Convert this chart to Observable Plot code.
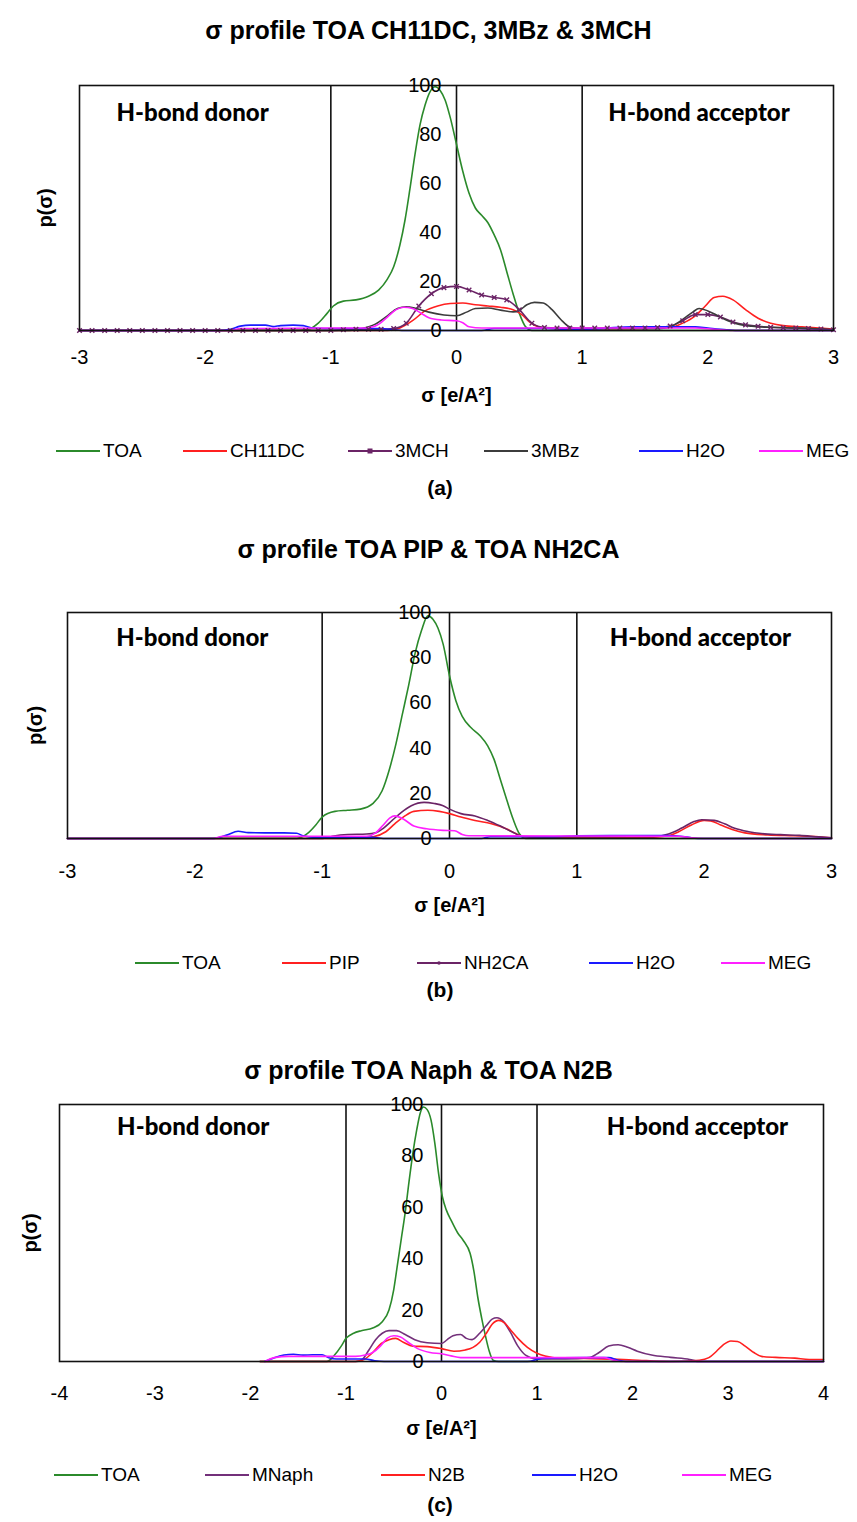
<!DOCTYPE html>
<html>
<head>
<meta charset="utf-8">
<script src="https://cdn.jsdelivr.net/npm/d3@7"></script>
<script src="https://cdn.jsdelivr.net/npm/@observablehq/plot@0.6"></script>
<style>
  body { margin: 0; background: #fff; }
  #page { position: relative; width: 857px; height: 1522px; font-family: "Liberation Sans", Arial, sans-serif; color: #000; }
  .title { position: absolute; left: 0; width: 857px; text-align: center; font-weight: bold; font-size: 25px; transform: translateY(-50%); white-space: nowrap; }
  .caption { position: absolute; left: 420px; width: 40px; text-align: center; font-weight: bold; font-size: 21px; transform: translateY(-50%); }
  .chart { position: absolute; left: 0; }
  .item { position: absolute; display: flex; align-items: center; font-size: 19px; transform: translateY(-50%); white-space: nowrap; }
  .item svg { margin-right: 3px; }
</style>
</head>
<body>
<div id="page"></div>
<script>
// σ-profiles, p(σ) against σ [e/Å²], as [σ, p] pairs

// (a) TOA, CH11DC, 3MCH, 3MBz, H2O, MEG
const toaA = [[-3,0],[-1.3,0],[-1.18,0.5],[-1.1,3],[-1.03,7],[-0.98,10],[-0.9,12],[-0.8,12.5],[-0.7,14],[-0.62,16.5],[-0.55,21],[-0.5,26],[-0.45,35],[-0.41,45],[-0.37,58],[-0.33,72],[-0.29,84],[-0.25,92],[-0.21,97.5],[-0.17,99.5],[-0.13,98],[-0.09,94],[-0.05,87],[0,76],[0.05,65],[0.1,56],[0.15,50],[0.2,47],[0.25,44],[0.3,39],[0.35,33],[0.4,24],[0.45,15],[0.5,7],[0.55,1.5],[0.6,0],[3,0]];
const ch11dcA = [[-3,0],[-0.55,0],[-0.45,1],[-0.35,4],[-0.25,8],[-0.15,10],[-0.05,11],[0.05,11.2],[0.15,10.5],[0.25,10],[0.35,9.5],[0.45,8.5],[0.52,6.5],[0.58,3.5],[0.65,1.5],[0.75,0.8],[1.0,0.7],[1.5,0.8],[1.7,1.2],[1.8,3],[1.9,6],[1.98,10],[2.05,13.5],[2.12,14],[2.2,12.5],[2.3,8.5],[2.4,5],[2.5,3],[2.6,2],[2.75,1.5],[2.9,1],[3,0.5]];
const mch3A = [[-3,0],[-2.9,0],[-2.8,0],[-2.7,0],[-2.6,0],[-2.5,0],[-2.4,0],[-2.3,0],[-2.2,0],[-2.1,0],[-2,0],[-1.9,0],[-1.8,0],[-1.7,0],[-1.6,0],[-1.5,0],[-1.4,0],[-1.3,0],[-1.2,0],[-1.1,0],[-1,0],[-0.9,0.3],[-0.8,0.5],[-0.7,0.5],[-0.6,0.5],[-0.5,0.8],[-0.4,3],[-0.3,10],[-0.2,15],[-0.1,17.5],[0,18],[0.1,16.5],[0.2,14.5],[0.3,13.5],[0.4,12.5],[0.5,8.5],[0.6,3],[0.7,1.2],[0.8,1],[0.9,1],[1,1],[1.1,1],[1.2,1],[1.3,1],[1.4,1],[1.5,1],[1.6,1.2],[1.7,1.8],[1.8,4],[1.9,6.5],[2,6.5],[2.1,5.5],[2.2,3.5],[2.3,2.3],[2.4,1.7],[2.5,1.3],[2.6,1.1],[2.7,1],[2.8,0.8],[2.9,0.6],[3,0.3]];
const mbz3A = [[-3,0],[-0.85,0],[-0.75,0.8],[-0.65,2.5],[-0.55,6],[-0.47,9],[-0.4,9.7],[-0.32,9],[-0.22,7.5],[-0.1,6.3],[0,6],[0.08,7.5],[0.15,9],[0.25,9.2],[0.35,8.3],[0.45,7.6],[0.5,8.2],[0.56,10.5],[0.62,11.5],[0.69,11.2],[0.76,8.5],[0.83,4.5],[0.9,1.5],[0.98,0.7],[1.6,0.7],[1.7,1.5],[1.8,4.5],[1.88,7.5],[1.93,9],[2,8],[2.08,6],[2.16,4],[2.25,2.5],[2.35,1.8],[2.5,1.3],[2.7,1],[2.9,0.6],[3,0.3]];
const h2oA = [[-3,0],[-1.9,0],[-1.8,0.5],[-1.72,1.8],[-1.64,2.2],[-1.52,2.2],[-1.46,1.6],[-1.4,2],[-1.3,2.2],[-1.22,2],[-1.15,1],[-1.05,0.8],[-0.8,0.8],[-0.6,0.8],[-0.5,0.3],[-0.4,0],[0.2,0],[0.3,0.8],[0.7,0.8],[0.9,0.5],[1.1,0.6],[1.25,1.2],[1.4,1.5],[1.9,1.5],[2,1],[2.15,0.3],[2.25,0],[3,0]];
const megA = [[-3,0],[-1.8,0],[-1.72,0.8],[-1,1],[-0.72,1],[-0.62,2.5],[-0.55,5.5],[-0.48,8.5],[-0.42,9.5],[-0.35,9],[-0.28,7],[-0.22,5.2],[-0.12,4.3],[0,4],[0.05,3.2],[0.1,1.5],[0.2,1],[1.9,1],[2.05,0.5],[2.2,0],[3,0]];

// (b) TOA, PIP, NH2CA, H2O, MEG
const toaB = [[-3,0],[-1.2,0],[-1.12,2],[-1.05,6],[-1,9.5],[-0.9,12],[-0.8,12.5],[-0.7,13],[-0.6,15.5],[-0.53,21],[-0.47,31],[-0.42,42],[-0.37,55],[-0.32,68],[-0.27,82],[-0.22,92],[-0.17,98.5],[-0.13,97],[-0.09,93],[-0.05,86],[0,72],[0.05,61],[0.1,54],[0.17,49],[0.24,45.5],[0.3,41],[0.35,35],[0.4,26],[0.45,17],[0.5,8.5],[0.55,2],[0.6,0],[3,0]];
const pipB = [[-3,0],[-0.9,0],[-0.7,0.4],[-0.6,0.8],[-0.5,3],[-0.43,6.5],[-0.35,10],[-0.28,12],[-0.17,12.5],[-0.08,12],[0,11],[0.09,9.5],[0.2,8],[0.33,6.5],[0.45,4.2],[0.52,2.2],[0.58,0.8],[0.7,0.5],[1.6,0.6],[1.72,1.2],[1.8,3],[1.9,6],[2,8],[2.05,7.8],[2.13,6],[2.22,4],[2.32,2.5],[2.5,1.6],[2.7,1.2],[2.9,0.8],[3,0.3]];
const nh2caB = [[-3,0],[-1,0],[-0.92,1],[-0.8,1.8],[-0.65,2],[-0.58,2.5],[-0.52,4.5],[-0.45,8],[-0.38,11.5],[-0.3,14.5],[-0.2,16],[-0.12,15.5],[-0.05,14.5],[0,13],[0.09,11],[0.2,10],[0.3,8],[0.4,5.5],[0.49,3],[0.57,1],[0.7,0.7],[1.6,0.8],[1.72,2],[1.82,4.5],[1.92,7.5],[1.98,8.3],[2.08,8],[2.16,6.5],[2.24,4.5],[2.35,3],[2.45,2.2],[2.6,1.7],[2.75,1.4],[2.9,0.7],[3,0.3]];
const h2oB = [[-3,0],[-1.85,0],[-1.75,1.5],[-1.66,3.2],[-1.58,2.6],[-1.45,2.5],[-1.3,2.5],[-1.2,2.3],[-1.15,1.2],[-1.05,0.5],[-0.6,0.5],[-0.5,0],[0.25,0],[0.32,0.8],[0.8,0.8],[1,1.2],[1.7,1.3],[1.85,0.8],[1.95,0],[3,0]];
const megB = [[-3,0],[-1.85,0],[-1.78,1],[-0.65,1],[-0.58,2.5],[-0.52,6],[-0.47,9],[-0.43,10],[-0.36,8.5],[-0.28,5.5],[-0.18,4.3],[-0.05,3.6],[0.04,3.4],[0.1,1.8],[0.15,1.2],[1.8,1],[1.9,0.3],[2,0],[3,0]];

// (c) TOA, MNaph, N2B, H2O, MEG
const toaC = [[-1.9,0],[-1.2,0],[-1.12,2.5],[-1.05,6],[-1,9],[-0.92,11],[-0.84,12],[-0.72,13],[-0.62,15.5],[-0.55,20],[-0.5,28],[-0.46,38],[-0.42,48],[-0.38,58],[-0.34,70],[-0.3,81],[-0.26,90],[-0.22,97],[-0.19,99],[-0.15,98],[-0.11,94],[-0.07,85],[-0.03,73],[0.01,64],[0.05,59],[0.1,55],[0.17,50],[0.23,47],[0.3,42],[0.34,35],[0.38,25],[0.42,17],[0.46,10],[0.5,4],[0.54,0.5],[0.6,0],[4,0]];
const mnaphC = [[-1.9,0],[-0.9,0],[-0.83,0.8],[-0.76,4.5],[-0.69,8.5],[-0.62,11],[-0.55,12],[-0.47,12],[-0.38,10.5],[-0.28,8.5],[-0.15,7.3],[0,7],[0.06,8.5],[0.12,10],[0.2,10.5],[0.26,9],[0.32,8.5],[0.4,11],[0.47,14],[0.53,16.5],[0.58,17],[0.65,15.5],[0.72,11.5],[0.8,6],[0.88,2.5],[1,1],[1.3,1],[1.55,1.5],[1.65,3.5],[1.75,6],[1.85,6.5],[1.95,5.5],[2.05,4],[2.2,2.5],[2.4,1.6],[2.6,0.8],[2.7,0],[4,0]];
const n2bC = [[-1.9,0],[-0.9,0],[-0.8,1],[-0.72,3.5],[-0.63,7],[-0.55,8.5],[-0.48,9],[-0.4,7.5],[-0.3,6],[-0.15,5.8],[0,5],[0.13,4],[0.25,4.5],[0.33,5.5],[0.4,7.5],[0.47,11],[0.53,14.5],[0.6,16],[0.66,15],[0.73,12],[0.8,9],[0.9,5.5],[1,3.2],[1.1,2],[1.2,1.3],[1.5,1.2],[2,0.6],[2.4,0],[2.7,0.5],[2.8,1.5],[2.88,4],[2.95,6.5],[3.03,8],[3.1,7.8],[3.18,6],[3.27,3.5],[3.35,2],[3.5,1.6],[3.7,1.3],[3.85,0.8],[4,0.8]];
const h2oC = [[-1.85,0],[-1.75,1.5],[-1.65,2.5],[-1.55,2.8],[-1.45,2.5],[-1.35,2.6],[-1.25,2.6],[-1.18,1.5],[-1.1,1],[-0.8,1],[-0.7,0.3],[-0.6,0],[0.9,0],[1.05,1.2],[1.5,1.5],[1.75,1.5],[1.85,0.5],[1.95,0],[4,0]];
const megC = [[-1.85,0],[-1.75,1.5],[-1.6,2],[-1.2,2],[-0.9,2],[-0.8,2.5],[-0.72,3.5],[-0.64,6],[-0.57,9],[-0.5,10],[-0.43,9.5],[-0.35,7.5],[-0.25,5],[-0.12,3.5],[0,3],[0.1,2.2],[0.2,1.5],[1.7,1.5],[1.8,0.5],[1.9,0],[4,0]];

// axis ticks and region boundaries
const yTicks = [0, 20, 40, 60, 80, 100];
const xTicksAB = [-3, -2, -1, 0, 1, 2, 3];
const xTicksC = [-4, -3, -2, -1, 0, 1, 2, 3, 4];
const regionBounds = [-1, 0, 1];

const colors = {
  TOA: "#2b8a2b", CH11DC: "#ff2020", "3MCH": "#6b2466", "3MBz": "#3c3c3c",
  H2O: "#1a1aff", MEG: "#ff20ff", PIP: "#ff2020", NH2CA: "#6b2466",
  MNaph: "#73307a", N2B: "#ff2020"
};

const panels = [
  {
    title: "σ profile TOA CH11DC, 3MBz & 3MCH", titleY: 30, caption: "(a)", captionY: 488,
    top: 60, height: 360, mt: 25, mb: 90, ml: 79, mr: 24, xDomain: [-3, 3], xTicks: xTicksAB,
    tickPad: 19, xLabelDy: 65, yLabelDx: -34, yTickDx: -15, donorX: -2.1, accX: 1.93, hbY: 88.6,
    series: [["TOA", toaA], ["CH11DC", ch11dcA], ["3MCH", mch3A], ["3MBz", mbz3A], ["H2O", h2oA], ["MEG", megA]],
    marked: "3MCH", legendY: 451, legendX: [56, 183, 348, 484, 639, 759]
  },
  {
    title: "σ profile TOA PIP & TOA NH2CA", titleY: 549, caption: "(b)", captionY: 990,
    top: 580, height: 350, mt: 32, mb: 92, ml: 67, mr: 26, xDomain: [-3, 3], xTicks: xTicksAB,
    tickPad: 25, xLabelDy: 67, yLabelDx: -32, yTickDx: -18, donorX: -2.02, accX: 1.97, hbY: 88.5,
    series: [["TOA", toaB], ["PIP", pipB], ["NH2CA", nh2caB], ["H2O", h2oB], ["MEG", megB]],
    dotted: "NH2CA", legendY: 963, legendX: [135, 282, 417, 589, 721]
  },
  {
    title: "σ profile TOA Naph & TOA N2B", titleY: 1070, caption: "(c)", captionY: 1505,
    top: 1080, height: 370, mt: 24, mb: 89, ml: 59, mr: 34, xDomain: [-4, 4], xTicks: xTicksC,
    tickPad: 24, xLabelDy: 67, yLabelDx: -29, yTickDx: -18, donorX: -2.6, accX: 2.68, hbY: 91,
    series: [["TOA", toaC], ["MNaph", mnaphC], ["N2B", n2bC], ["H2O", h2oC], ["MEG", megC]],
    legendY: 1475, legendX: [54, 205, 381, 532, 682]
  }
];

const page = document.getElementById("page");

function swatch(name, p) {
  const c = colors[name];
  let s = `<svg width="44" height="12"><line x1="0" x2="44" y1="6" y2="6" stroke="${c}" stroke-width="2"/>`;
  if (name === p.marked) s += `<rect x="19.5" y="3.5" width="5" height="5" fill="${c}"/>`;
  if (name === p.dotted) s += `<circle cx="22" cy="6" r="1.8" fill="${c}"/>`;
  return s + "</svg>";
}

for (const p of panels) {
  const t = document.createElement("div");
  t.className = "title";
  t.style.top = p.titleY + "px";
  t.textContent = p.title;
  page.appendChild(t);

  const lineMarks = p.series.map(([name, pts]) =>
    Plot.line(pts, {x: d => d[0], y: d => d[1], stroke: colors[name], strokeWidth: 1.6, curve: "monotone-x"})
  );
  const extra = [];
  if (p.marked) {
    const pts = p.series.find(s => s[0] === p.marked)[1];
    extra.push(Plot.dot(pts, {x: d => d[0], y: d => d[1], symbol: "times", r: 2.2, stroke: colors[p.marked], strokeWidth: 1.4}));
  }

  const chart = Plot.plot({
    width: 857,
    height: p.height,
    marginTop: p.mt,
    marginBottom: p.mb,
    marginLeft: p.ml,
    marginRight: p.mr,
    style: {fontFamily: "Liberation Sans, Arial, sans-serif", fontSize: "20px", color: "#000", background: "transparent", overflow: "visible"},
    x: {domain: p.xDomain, ticks: p.xTicks, tickSize: 0, tickPadding: p.tickPad, tickFormat: d => String(d), label: null},
    y: {domain: [0, 100], axis: null},
    marks: [
      Plot.ruleX(regionBounds, {stroke: "#111", strokeWidth: 1.6}),
      ...lineMarks,
      ...extra,
      Plot.frame({stroke: "#111", strokeWidth: 1.6}),
      Plot.text(yTicks, {x: 0, y: d => d, text: d => String(d), textAnchor: "end", dx: p.yTickDx, fontSize: 20}),
      Plot.text(["H-bond donor"], {x: p.donorX, y: p.hbY, text: d => d, fontFamily: "Lato, sans-serif", fontWeight: 900, fontSize: 24}),
      Plot.text(["H-bond acceptor"], {x: p.accX, y: p.hbY, text: d => d, fontFamily: "Lato, sans-serif", fontWeight: 900, fontSize: 24}),
      Plot.text(["σ [e/A²]"], {frameAnchor: "bottom", lineAnchor: "middle", dy: p.xLabelDy, text: d => d, fontWeight: "bold", fontSize: 20}),
      Plot.text(["p(σ)"], {frameAnchor: "left", textAnchor: "middle", lineAnchor: "middle", rotate: -90, dx: p.yLabelDx, text: d => d, fontWeight: "bold", fontSize: 20})
    ]
  });
  chart.classList.add("chart");
  chart.style.position = "absolute";
  chart.style.top = p.top + "px";
  page.appendChild(chart);

  p.series.forEach(([name], i) => {
    const it = document.createElement("div");
    it.className = "item";
    it.style.left = p.legendX[i] + "px";
    it.style.top = p.legendY + "px";
    it.innerHTML = swatch(name, p) + `<span>${name}</span>`;
    page.appendChild(it);
  });

  const cap = document.createElement("div");
  cap.className = "caption";
  cap.style.top = p.captionY + "px";
  cap.textContent = p.caption;
  page.appendChild(cap);
}
</script>
</body>
</html>
